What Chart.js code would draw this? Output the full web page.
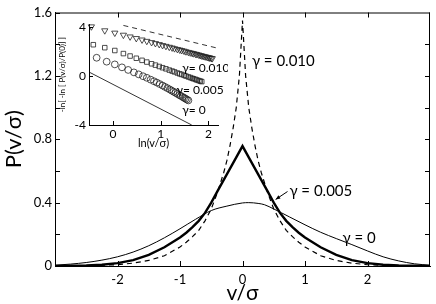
<!DOCTYPE html>
<html>
<head>
<meta charset="utf-8">
<script src="https://cdn.jsdelivr.net/npm/chart.js@4.4.1/dist/chart.umd.min.js"></script>
<style>
  html, body { margin: 0; padding: 0; background: #fff; }
  #wrap { position: relative; width: 436px; height: 304px; }
  #main { position: absolute; left: 0; top: 0; }
  #inset { position: absolute; left: 58px; top: 14px; }
</style>
</head>
<body>
<div id="wrap">
  <canvas id="main" width="436" height="304"></canvas>
  <canvas id="inset" width="170" height="136"></canvas>
</div>
<script>
// main plot: P(v/sigma) for three gamma values
const vGamma0 = [-3, -2.75, -2.5, -2.25, -2, -1.75, -1.5, -1.25, -1, -0.75, -0.5, -0.25, 0, 0.1, 0.25, 0.35, 0.5, 0.75, 1, 1.25, 1.5, 1.75, 2, 2.25, 2.5, 2.75, 3];
const pGamma0 = [0.005, 0.012, 0.022, 0.037, 0.058, 0.088, 0.128, 0.178, 0.235, 0.295, 0.35, 0.378, 0.398, 0.40, 0.395, 0.387, 0.36, 0.31, 0.26, 0.213, 0.173, 0.135, 0.095, 0.058, 0.032, 0.014, 0.005];

const vGamma005 = [-3, -2.5, -2.25, -2, -1.75, -1.5, -1.25, -1, -0.9, -0.8, -0.7, -0.6, -0.5, -0.4, -0.3, -0.2, -0.1, 0,
                   0.1, 0.2, 0.3, 0.4, 0.5, 0.6, 0.7, 0.8, 0.9, 1, 1.25, 1.5, 1.75, 2, 2.25, 2.5, 3];
const pGamma005 = [0.001, 0.004, 0.008, 0.018, 0.037, 0.07, 0.118, 0.18, 0.21, 0.245, 0.285, 0.335, 0.40, 0.473, 0.544, 0.615, 0.686, 0.757,
                   0.686, 0.615, 0.544, 0.473, 0.40, 0.335, 0.285, 0.245, 0.21, 0.18, 0.118, 0.07, 0.037, 0.018, 0.008, 0.004, 0.001];

const vGamma010 = [-3, -2.5, -2, -1.75, -1.5, -1.25, -1, -0.9, -0.8, -0.7, -0.6, -0.5, -0.4, -0.3, -0.25, -0.2, -0.15, -0.1, -0.05, 0,
                   0.05, 0.1, 0.15, 0.2, 0.25, 0.3, 0.4, 0.5, 0.6, 0.7, 0.8, 0.9, 1, 1.25, 1.5, 1.75, 2, 2.5, 3];
const pGamma010 = [0, 0.002, 0.008, 0.018, 0.035, 0.065, 0.12, 0.15, 0.185, 0.225, 0.285, 0.36, 0.465, 0.59, 0.665, 0.76, 0.87, 1.0, 1.2, 1.55,
                   1.2, 1.0, 0.87, 0.76, 0.665, 0.59, 0.465, 0.36, 0.285, 0.225, 0.185, 0.15, 0.12, 0.065, 0.035, 0.018, 0.008, 0.002, 0];

const xTicks = [-3, -2, -1, 0, 1, 2, 3];
const xTickLabels = ['', '-2', '-1', '0', '1', '2', ''];
const yTicks = [0, 0.2, 0.4, 0.6, 0.8, 1.0, 1.2, 1.4, 1.6];
const yTickLabels = ['0', '', '0.4', '', '0.8', '', '1.2', '', '1.6'];

// inset: -ln[-ln(P/P0)] against ln(v/sigma)
const lnTri = [-0.45, -0.17, 0.04, 0.22, 0.36, 0.49, 0.61, 0.71, 0.81, 0.89, 0.97, 1.04, 1.11, 1.18, 1.24, 1.29, 1.35, 1.40, 1.44, 1.49,
               1.53, 1.58, 1.62, 1.66, 1.69, 1.73, 1.76, 1.80, 1.83, 1.86, 1.89, 1.92, 1.95, 1.98, 2.01, 2.03, 2.06, 2.08];
const yTri = [4.00, 3.68, 3.49, 3.32, 3.18, 3.05, 2.93, 2.82, 2.72, 2.64, 2.56, 2.48, 2.41, 2.34, 2.28, 2.22, 2.16, 2.11, 2.07, 2.02,
              1.97, 1.92, 1.88, 1.84, 1.81, 1.77, 1.74, 1.70, 1.66, 1.63, 1.60, 1.57, 1.54, 1.51, 1.48, 1.46, 1.43, 1.41];
const lnSq = [-0.41, -0.17, 0.04, 0.22, 0.36, 0.49, 0.61, 0.71, 0.81, 0.89, 0.97, 1.04, 1.11, 1.18, 1.24, 1.29, 1.35, 1.40, 1.44, 1.49,
              1.53, 1.58, 1.62, 1.66, 1.69, 1.73, 1.76, 1.80, 1.83, 1.86];
const ySq = [2.53, 2.29, 2.06, 1.81, 1.61, 1.43, 1.26, 1.12, 0.98, 0.87, 0.76, 0.66, 0.57, 0.47, 0.39, 0.32, 0.23, 0.16, 0.11, 0.04,
             -0.02, -0.09, -0.14, -0.20, -0.24, -0.29, -0.34, -0.39, -0.43, -0.47];
const lnCirc = [-0.34, -0.13, 0.04, 0.19, 0.32, 0.44, 0.54, 0.63, 0.71, 0.79, 0.86, 0.92, 0.98, 1.04, 1.09, 1.14, 1.19, 1.23, 1.27, 1.31,
                1.35, 1.39, 1.42, 1.46, 1.49, 1.52, 1.55, 1.58];
const yCirc = [1.47, 1.15, 0.93, 0.69, 0.48, 0.28, 0.12, -0.03, -0.16, -0.31, -0.44, -0.55, -0.67, -0.79, -0.90, -1.00, -1.11, -1.20, -1.29, -1.38,
               -1.47, -1.56, -1.63, -1.72, -1.79, -1.86, -1.93, -2.00];
const refDashX = [0.22, 2.18];
const refDashY = [4.1, 2.26];
const refSolidX = [-0.48, 1.65];
const refSolidY = [0.27, -4.0];
const insetXTicks = [-0.5, 0, 1, 2, 2.2];
const insetXTickLabels = ['', '0', '1', '2', ''];
const insetYTicks = [-4, 0, 4];

const pts = (xs, ys) => xs.map((x, i) => ({ x: x, y: ys[i] }));

Chart.defaults.font.family = 'Lato, "Open Sans", sans-serif';
Chart.defaults.color = '#000';

// inward tick marks + closed frame
const frameTicks = {
  id: 'frameTicks',
  afterDraw(chart, args, opts) {
    const { ctx, chartArea: a, scales: { x, y } } = chart;
    const len = opts.len;
    ctx.save();
    ctx.strokeStyle = '#000';
    ctx.lineWidth = 1;
    ctx.beginPath();
    if (opts.box) {
      ctx.moveTo(a.left, a.top + 0.5); ctx.lineTo(a.right, a.top + 0.5);
      ctx.moveTo(a.right - 0.5, a.top); ctx.lineTo(a.right - 0.5, a.bottom);
    }
    x.ticks.forEach(t => {
      if (t.value <= x.min || t.value >= x.max) return;
      const px = Math.round(x.getPixelForValue(t.value)) + 0.5;
      ctx.moveTo(px, a.bottom); ctx.lineTo(px, a.bottom - len);
      if (opts.box) { ctx.moveTo(px, a.top); ctx.lineTo(px, a.top + len); }
    });
    y.ticks.forEach(t => {
      if (t.value <= y.min) return;
      const py = Math.round(y.getPixelForValue(t.value)) + 0.5;
      ctx.moveTo(a.left, py); ctx.lineTo(a.left + len, py);
      if (opts.box && t.value < y.max) { ctx.moveTo(a.right, py); ctx.lineTo(a.right - len, py); }
    });
    ctx.stroke();
    ctx.restore();
  }
};

// curve labels placed in data coordinates
const curveLabels = {
  id: 'curveLabels',
  afterDatasetsDraw(chart, args, opts) {
    const { ctx, scales: { x, y } } = chart;
    ctx.save();
    ctx.fillStyle = '#000';
    ctx.font = opts.font;
    ctx.textAlign = 'left';
    ctx.textBaseline = 'middle';
    opts.items.forEach(it => {
      ctx.fillText(it.text, x.getPixelForValue(it.x), y.getPixelForValue(it.y));
    });
    (opts.arrows || []).forEach(ar => {
      const x0 = x.getPixelForValue(ar[0]), y0 = y.getPixelForValue(ar[1]);
      const x1 = x.getPixelForValue(ar[2]), y1 = y.getPixelForValue(ar[3]);
      const ang = Math.atan2(y1 - y0, x1 - x0);
      ctx.lineWidth = 1;
      ctx.beginPath();
      ctx.moveTo(x0, y0); ctx.lineTo(x1, y1);
      ctx.stroke();
      ctx.beginPath();
      ctx.moveTo(x1, y1);
      ctx.lineTo(x1 - 5 * Math.cos(ang - 0.4), y1 - 5 * Math.sin(ang - 0.4));
      ctx.lineTo(x1 - 5 * Math.cos(ang + 0.4), y1 - 5 * Math.sin(ang + 0.4));
      ctx.closePath();
      ctx.fill();
    });
    ctx.restore();
  }
};

new Chart(document.getElementById('main'), {
  type: 'scatter',
  data: {
    datasets: [
      { data: pts(vGamma0, pGamma0), showLine: true, borderColor: '#000', borderWidth: 1, pointRadius: 0, cubicInterpolationMode: 'monotone' },
      { data: pts(vGamma005, pGamma005), showLine: true, borderColor: '#000', borderWidth: 2.4, pointRadius: 0, tension: 0 },
      { data: pts(vGamma010, pGamma010), showLine: true, borderColor: '#000', borderWidth: 1.2, borderDash: [5, 4], pointRadius: 0, tension: 0 }
    ]
  },
  options: {
    responsive: false,
    animation: false,
    layout: { padding: { top: 12.5, right: 6, left: 0, bottom: 0 } },
    plugins: {
      legend: { display: false },
      tooltip: { enabled: false },
      frameTicks: { len: 5, box: true },
      curveLabels: {
        font: '15px Lato, "Open Sans", sans-serif',
        items: [
          { text: 'γ = 0.010', x: 0.15, y: 1.29 },
          { text: 'γ = 0.005', x: 0.75, y: 0.47 },
          { text: 'γ = 0', x: 1.6, y: 0.175 }
        ],
        arrows: [[0.72, 0.47, 0.53, 0.42]]
      }
    },
    scales: {
      x: {
        type: 'linear', min: -3, max: 3,
        afterBuildTicks: s => { s.ticks = xTicks.map(v => ({ value: v })); },
        afterFit: s => { s.height = 38; },
        grid: { drawOnChartArea: false, drawTicks: false },
        border: { display: true, color: '#000', width: 1 },
        ticks: { padding: 6, font: { size: 13 }, callback: (v, i) => xTickLabels[i] },
        title: { display: true, text: 'v/σ', font: { size: 21 }, padding: { top: 0, bottom: -2 } }
      },
      y: {
        type: 'linear', min: 0, max: 1.6,
        afterBuildTicks: s => { s.ticks = yTicks.map(v => ({ value: v })); },
        afterFit: s => { s.width = 55; },
        grid: { drawOnChartArea: false, drawTicks: false },
        border: { display: true, color: '#000', width: 1 },
        ticks: { padding: 3, font: { size: 13 }, callback: (v, i) => yTickLabels[i] },
        title: { display: true, text: 'P(v/σ)', font: { size: 22 }, padding: { top: 1, bottom: 0 } }
      }
    }
  },
  plugins: [frameTicks, curveLabels]
});

const openMarker = (style, r, rot) => ({
  showLine: false, pointStyle: style, pointRadius: r, pointRotation: rot || 0,
  pointBackgroundColor: 'rgba(0,0,0,0)', pointBorderColor: '#222', pointBorderWidth: 0.8, clip: false
});

new Chart(document.getElementById('inset'), {
  type: 'scatter',
  data: {
    datasets: [
      Object.assign({ data: pts(lnTri, yTri) }, openMarker('triangle', 3.6, 180)),
      Object.assign({ data: pts(lnSq, ySq) }, openMarker('rect', 3.2)),
      Object.assign({ data: pts(lnCirc, yCirc) }, openMarker('circle', 3.4)),
      { data: pts(refDashX, refDashY), showLine: true, borderColor: '#000', borderWidth: 0.8, borderDash: [5, 4], pointRadius: 0, clip: false },
      { data: pts(refSolidX, refSolidY), showLine: true, borderColor: '#000', borderWidth: 0.8, pointRadius: 0 }
    ]
  },
  options: {
    responsive: false,
    animation: false,
    layout: { padding: { top: 8.5, right: 10, left: 0, bottom: 0 } },
    plugins: {
      legend: { display: false },
      tooltip: { enabled: false },
      frameTicks: { len: 4, box: false },
      curveLabels: {
        font: '12px Lato, "Open Sans", sans-serif',
        items: [
          { text: 'γ= 0.010', x: 1.45, y: 0.64 },
          { text: 'γ= 0.005', x: 1.33, y: -1.2 },
          { text: 'γ= 0', x: 1.45, y: -2.8 }
        ]
      }
    },
    scales: {
      x: {
        type: 'linear', min: -0.5, max: 2.2,
        afterBuildTicks: s => { s.ticks = insetXTicks.map(v => ({ value: v })); },
        afterFit: s => { s.height = 25; },
        grid: { drawOnChartArea: false, drawTicks: false },
        border: { display: true, color: '#000', width: 1 },
        ticks: { padding: 2, font: { size: 12 }, callback: (v, i) => insetXTickLabels[i] },
        title: { display: true, text: 'ln(v/σ)', font: { size: 11 }, padding: { top: 0, bottom: 0 } }
      },
      y: {
        type: 'linear', min: -4, max: 4.2,
        afterBuildTicks: s => { s.ticks = insetYTicks.map(v => ({ value: v })); },
        afterFit: s => { s.width = 31; },
        grid: { drawOnChartArea: false, drawTicks: false },
        border: { display: true, color: '#000', width: 1 },
        ticks: { padding: 3, font: { size: 12 }, callback: v => String(v) },
        title: { display: true, text: '-ln[ -ln [ P(v/σ)/P(0)] ]', font: { size: 8 }, padding: { top: 0, bottom: 0 } }
      }
    }
  },
  plugins: [frameTicks, curveLabels]
});
</script>
</body>
</html>
